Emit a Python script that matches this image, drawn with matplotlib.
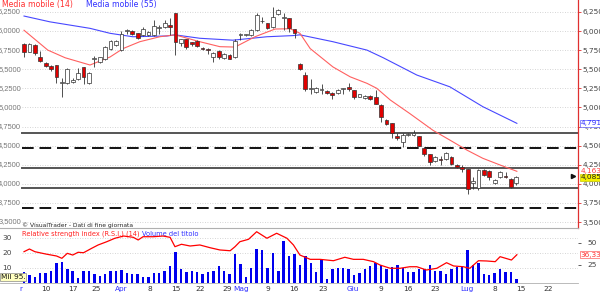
import numpy as np
import matplotlib
matplotlib.use("Agg")
import matplotlib.pyplot as plt
from matplotlib.transforms import blended_transform_factory, Bbox

# ---- price data (daily candles, oldest first) ----
opens = [5.826, 5.73, 5.817, 5.664, 5.585, 5.546, 5.555, 5.315, 5.323, 5.33,
         5.376, 5.525, 5.323, 5.63, 5.594, 5.63, 5.768, 5.813, 5.751, 5.995,
         5.996, 5.97, 5.944, 5.95, 5.944, 6.035, 6.056, 6.075, 6.24, 5.84,
         5.89, 5.85, 5.873, 5.775, 5.77, 5.656, 5.742, 5.643, 5.69, 5.664,
         5.945, 5.945, 5.95, 6.01, 6.125, 6.10, 6.056, 6.22, 6.165, 6.166,
         6.02, 5.57, 5.424, 5.237, 5.206, 5.23, 5.22, 5.19, 5.185, 5.245,
         5.263, 5.228, 5.14, 5.12, 5.15, 5.14, 5.03, 4.835, 4.79, 4.63,
         4.55, 4.635, 4.64, 4.625, 4.47, 4.385, 4.30, 4.33, 4.32, 4.355,
         4.25, 4.225, 4.19, 4.015, 3.94, 4.18, 4.17, 4.015, 4.085, 4.10,
         4.06, 4.005]
highs = [5.84, 5.84, 5.83, 5.742, 5.60, 5.56, 5.56, 5.38, 5.51, 5.38,
         5.51, 5.53, 5.47, 5.67, 5.66, 5.80, 5.88, 5.88, 6.0, 6.03,
         6.01, 5.98, 6.05, 6.0, 6.14, 6.08, 6.14, 6.17, 6.24, 5.90,
         5.90, 5.86, 5.88, 5.79, 5.78, 5.72, 5.75, 5.71, 5.70, 5.90,
         5.97, 5.96, 6.02, 6.23, 6.18, 6.11, 6.32, 6.29, 6.23, 6.17,
         6.03, 5.58, 5.47, 5.37, 5.27, 5.30, 5.23, 5.20, 5.24, 5.26,
         5.32, 5.23, 5.18, 5.16, 5.16, 5.23, 5.04, 4.85, 4.80, 4.67,
         4.66, 4.67, 4.70, 4.63, 4.48, 4.39, 4.36, 4.37, 4.42, 4.36,
         4.26, 4.24, 4.20, 4.09, 4.20, 4.19, 4.18, 4.06, 4.17, 4.16,
         4.07, 4.10]
lows = [5.66, 5.72, 5.686, 5.60, 5.53, 5.48, 5.315, 5.14, 5.30, 5.32,
        5.36, 5.30, 5.31, 5.53, 5.58, 5.62, 5.75, 5.80, 5.74, 5.96,
        5.95, 5.89, 5.93, 5.94, 5.93, 5.96, 6.04, 5.95, 5.686, 5.80,
        5.76, 5.80, 5.79, 5.75, 5.70, 5.60, 5.63, 5.63, 5.63, 5.65,
        5.88, 5.93, 5.94, 6.0, 6.10, 6.02, 6.04, 6.21, 6.01, 5.99,
        5.91, 5.49, 5.22, 5.18, 5.19, 5.17, 5.17, 5.11, 5.18, 5.17,
        5.22, 5.11, 5.13, 5.11, 5.10, 5.04, 4.81, 4.77, 4.60, 4.57,
        4.48, 4.62, 4.63, 4.49, 4.37, 4.24, 4.29, 4.24, 4.31, 4.24,
        4.21, 4.15, 3.865, 3.93, 3.92, 4.10, 4.05, 4.0, 4.08, 4.08,
        3.95, 3.99]
closes = [5.721, 5.826, 5.708, 5.607, 5.542, 5.499, 5.402, 5.336, 5.499, 5.36,
          5.454, 5.402, 5.454, 5.64, 5.656, 5.795, 5.865, 5.865, 5.961, 6.0,
          5.961, 5.904, 6.03, 5.99, 6.065, 6.04, 6.10, 6.05, 5.86, 5.89,
          5.795, 5.83, 5.804, 5.77, 5.75, 5.708, 5.664, 5.70, 5.64, 5.873,
          5.95, 5.95, 6.01, 6.21, 6.13, 6.035, 6.19, 6.27, 6.17, 6.035,
          5.97, 5.50, 5.237, 5.24, 5.25, 5.235, 5.185, 5.16, 5.23, 5.25,
          5.237, 5.14, 5.17, 5.15, 5.11, 5.05, 4.88, 4.78, 4.66, 4.60,
          4.64, 4.65, 4.67, 4.495, 4.385, 4.29, 4.35, 4.31, 4.40, 4.26,
          4.225, 4.19, 3.93, 4.035, 4.18, 4.115, 4.095, 4.05, 4.16, 4.085,
          3.96, 4.085]

volumes = [7.2, 5.0, 4.3, 6.5, 6.5, 7.7, 13.5, 14.3, 9.5, 7.7,
           3.5, 7.7, 7.7, 6.1, 4.5, 6.1, 8.3, 7.7, 8.8, 6.5,
           6.1, 5.7, 3.9, 3.9, 6.5, 6.5, 8.3, 11.0, 20.5, 9.5,
           7.2, 8.3, 7.2, 6.1, 7.2, 8.3, 11.2, 7.7, 5.7, 19.0,
           12.8, 4.3, 10.1, 22.8, 21.7, 10.1, 20.1, 7.9, 27.9, 18.3,
           19.0, 11.7, 18.3, 13.2, 7.2, 15.5, 2.8, 9.5, 10.1, 10.1,
           9.0, 5.0, 6.5, 9.5, 11.2, 13.5, 12.3, 9.5, 10.5, 11.7,
           10.1, 7.2, 7.2, 9.5, 9.5, 11.7, 7.7, 7.9, 5.7, 9.5,
           10.5, 10.5, 21.7, 12.1, 13.5, 6.1, 5.5, 6.5, 9.0, 7.2,
           7.2, 2.8]

# moving averages (candle index, value)
ma14_idx = [0, 4.4, 7.6, 12.2, 15.9, 18.3, 21.4, 25.1, 27.9, 32.5, 36.2, 39, 42.7,
            46.4, 49.2, 51, 52.9, 57.1, 60.3, 63.4, 65.2, 67.7, 71.3, 75.6, 78.7,
            81.9, 84.8, 88, 91.1]
ma14_val = [6.01, 5.75, 5.65, 5.555, 5.66, 5.77, 5.86, 5.925, 5.95, 5.86, 5.795, 5.79,
            5.925, 6.026, 6.03, 5.97, 5.77, 5.53, 5.40, 5.315, 5.25, 5.097, 4.92, 4.70,
            4.573, 4.44, 4.334, 4.246, 4.1636]
ma55_idx = [0, 4.8, 12.2, 15.9, 20.1, 26.4, 27.9, 32.5, 38.6, 44.9, 49.7, 51, 57.1,
            63.4, 66.4, 72.6, 78.7, 84.8, 91.1]
ma55_val = [6.196, 6.12, 6.035, 5.97, 5.925, 5.935, 5.95, 5.905, 5.88, 5.925, 5.94,
            5.95, 5.86, 5.75, 5.65, 5.424, 5.27, 5.01, 4.7916]

rsi_idx = [0, 1, 2, 4, 6, 7, 8, 9, 10, 11, 12.5, 13.7, 15.3, 16.8, 18.4, 20.2, 21.1, 22,
           23.9, 25.7, 27, 27.9, 29.1, 30.7, 32.5, 34.4, 36.2, 38.1, 39, 39.9, 41.5, 43,
           44.9, 46.7, 48.6, 49.8, 51, 52.9, 54.7, 57.2, 59.3, 60.9, 62.7, 64.6, 65.8,
           67.7, 69.5, 71.3, 72.6, 74.4, 76.3, 78.1, 79.4, 81.2, 82.4, 84, 85.5, 87.1,
           88, 90.1, 91.1]
rsi_val = [39.9, 43.0, 39.9, 37.2, 34.9, 32.2, 38.0, 36.0, 39.2, 38.7, 43.8, 47.7, 51.5,
           55.5, 58.1, 56.6, 53.5, 57.3, 57.3, 58.1, 56.6, 45.7, 48.5, 46.5, 47.7, 44.5,
           41.9, 41.0, 45.7, 51.5, 54.3, 63.1, 55.5, 61.3, 55.5, 47.7, 36.0, 31.0, 31.0,
           29.4, 33.4, 31.0, 31.0, 28.3, 24.4, 20.6, 20.6, 22.4, 22.4, 18.6, 20.6, 27.1,
           23.3, 22.4, 20.6, 29.4, 29.1, 28.3, 34.1, 30.2, 36.335]

levels_solid = [4.66, 4.203, 3.94]
levels_dashed = [4.473, 3.68]
price_ticks = [3.5, 3.75, 4.0, 4.25, 4.5, 4.75, 5.0, 5.25, 5.5, 5.75, 6.0, 6.25]

tick_pos = [-1.5, 4, 9, 13.3, 18, 23.3, 28, 32.5, 37.5, 40.2, 45, 49.8, 55.2, 60.8,
            66, 70.9, 76, 81.8, 87.1, 91.9, 96.9]
tick_lbl = ['Mar', '10', '17', '25', 'Apr', '8', '15', '22', '29', 'Mag', '9', '16',
            '23', 'Giu', '9', '16', '23', 'Lug', '8', '15', '22']
months = {'Mar', 'Apr', 'Mag', 'Giu', 'Lug'}

W, H = 600, 293
fs = 5.3
fig = plt.figure(figsize=(6, 2.93), dpi=100)
fig.patch.set_facecolor('white')

xlim = (-4.44, 102.4)
axr = 578 / W

# ---------------- price panel ----------------
ax = fig.add_axes([0, 1 - 228 / H, axr, 228 / H])
ax.set_xlim(*xlim)
ax.set_ylim(3.4215, 6.406)
for s in ['left', 'top']:
    ax.spines[s].set_visible(False)
ax.spines['right'].set_color('#e03030')
ax.spines['right'].set_linewidth(0.9)
ax.spines['bottom'].set_color('#b0b0b0')
ax.spines['bottom'].set_linewidth(0.8)
ax.set_xticks([])
ax.yaxis.tick_right()
ax.set_yticks(price_ticks)
ax.set_yticklabels([f"{v:.4f}".replace('.', ',') for v in price_ticks])
ax.tick_params(axis='y', labelsize=fs, colors='#444444', length=2.5, width=0.6, pad=1)
ax.tick_params(axis='y', which='both', color='#e03030')

gx0 = 22 / 578
for v in price_ticks:
    ax.axhline(v, xmin=gx0, xmax=1, color='#c8c8c8', lw=0.6, dashes=(1, 2), zorder=0)
blend = blended_transform_factory(ax.transAxes, ax.transData)
for v in price_ticks:
    ax.text(21 / 578, v, f"{v:.4f}".replace('.', ','), transform=blend, ha='right',
            va='center', fontsize=5.4, color='#777777', family='Liberation Sans')

for v in levels_solid:
    ax.axhline(v, xmin=gx0, xmax=1, color='#555555', lw=1.4, zorder=1)
for v in levels_dashed:
    ax.axhline(v, xmin=gx0, xmax=1, color='#111111', lw=1.4, dashes=(6, 3), zorder=1)

ax.plot(ma55_idx, ma55_val, color='#4848ff', lw=0.8, zorder=2)
ax.plot(ma14_idx, ma14_val, color='#ff6060', lw=0.8, zorder=2)

o = np.array(opens)
c = np.array(closes)
x = np.arange(len(o))
ax.vlines(x, lows, highs, color='#333333', lw=0.6, zorder=3)
up = c >= o
body = np.maximum(np.abs(c - o), 0.012)
ax.bar(x, body, bottom=np.minimum(o, c), width=0.7,
       color=np.where(up, 'white', '#e00000'), edgecolor='#333333', lw=0.5, zorder=4)

ax.text(2 / 578, 1 - 4.5 / 228, 'Media mobile (14)', transform=ax.transAxes, color='#ff3030',
        fontsize=5.6, va='center', ha='left')
ax.text(86 / 578, 1 - 4.5 / 228, 'Media mobile (55)', transform=ax.transAxes, color='#3030ff',
        fontsize=5.6, va='center', ha='left')
ax.text(22 / 578, 3.46, '\u00a9 VisualTrader - Dati di fine giornata', transform=blend,
        fontsize=4.3, color='#222222', va='center', ha='left')

ax.text(1.004, 4.7916, '4,7916', transform=blend, fontsize=fs, color='#3030ff', va='center',
        ha='left', clip_on=False,
        bbox=dict(boxstyle='square,pad=0.1', fc='white', ec='#6060ff', lw=0.5))
ax.text(1.004, 4.1636, '4,1636', transform=blend, fontsize=fs, color='#ff4040', va='center',
        ha='left', clip_on=False)
ax.text(1.004, 4.085, '4,0850', transform=blend, fontsize=fs, color='#222222', va='center',
        ha='left', clip_on=False,
        bbox=dict(boxstyle='square,pad=0.1', fc='#f4f000', ec='#c8c800', lw=0.5))
ax.plot([0.992], [4.10], marker='>', color='#111111', ms=3, transform=blend, clip_on=False)

# ---------------- volume / RSI panel ----------------
ax2 = fig.add_axes([0, 1 - 283 / H, axr, 53 / H])
ax2.set_xlim(*xlim)
ax2.set_ylim(0, 35.3)
for s in ['left', 'top', 'right']:
    ax2.spines[s].set_visible(False)
ax2.spines['bottom'].set_color('#b0b0b0')
ax2.spines['bottom'].set_linewidth(0.6)
ax2.bar(x, volumes, width=0.45, color='#0000ee', zorder=2)
for v in [10, 20, 30]:
    ax2.axhline(v, xmin=gx0, xmax=1, color='#c8c8c8', lw=0.6, dashes=(1, 2), zorder=0)
    ax2.text(2 / 578, v, str(v), transform=blended_transform_factory(ax2.transAxes, ax2.transData),
             fontsize=fs, color='#444444', va='center', ha='left')
ax2.set_yticks([])
ax2.set_xticks(tick_pos)
ax2.set_xticklabels(tick_lbl)
ax2.tick_params(axis='x', labelsize=fs, length=0, pad=2)
clip = Bbox.from_extents(20, 0, W, H)
for lbl in ax2.get_xticklabels():
    lbl.set_color('#3030ff' if lbl.get_text() in months else '#333333')
    if lbl.get_text() == 'Mar':
        lbl.set_clip_on(True)
        lbl.set_clip_box(clip)

ax3 = ax2.twinx()
ax3.set_xlim(*xlim)
ax3.set_ylim(3.5, 65.1)
for s in ['left', 'top', 'right', 'bottom']:
    ax3.spines[s].set_visible(False)
ax3.plot(rsi_idx, rsi_val, color='#ff0000', lw=0.9, zorder=3)
ax3.set_yticks([25, 50])
ax3.tick_params(axis='y', labelsize=fs, colors='#444444', length=2.5, width=0.6, pad=4)
ax3.text(1.004, 36.335, '36,335', transform=blended_transform_factory(ax3.transAxes, ax3.transData),
         fontsize=fs, color='#ff3030', va='center', ha='left', clip_on=False,
         bbox=dict(boxstyle='square,pad=0.1', fc='white', ec='#ff6060', lw=0.5))

ax2.text(22 / 578, 1 - 4 / 53, 'Relative strength index (R.S.I.) (14)', transform=ax2.transAxes,
         fontsize=4.8, color='#ff2020', va='center', ha='left')
ax2.text(142 / 578, 1 - 4 / 53, 'Volume del titolo', transform=ax2.transAxes,
         fontsize=4.8, color='#3030ff', va='center', ha='left')
ax2.text(1 / 578, 4.0, 'Mil 95.', transform=blended_transform_factory(ax2.transAxes, ax2.transData),
         fontsize=fs, color='#111111', va='center', ha='left',
         bbox=dict(boxstyle='square,pad=0.1', fc='#ffffc0', ec='#888888', lw=0.5))

fig.savefig('out.png', dpi=100, facecolor='white')
